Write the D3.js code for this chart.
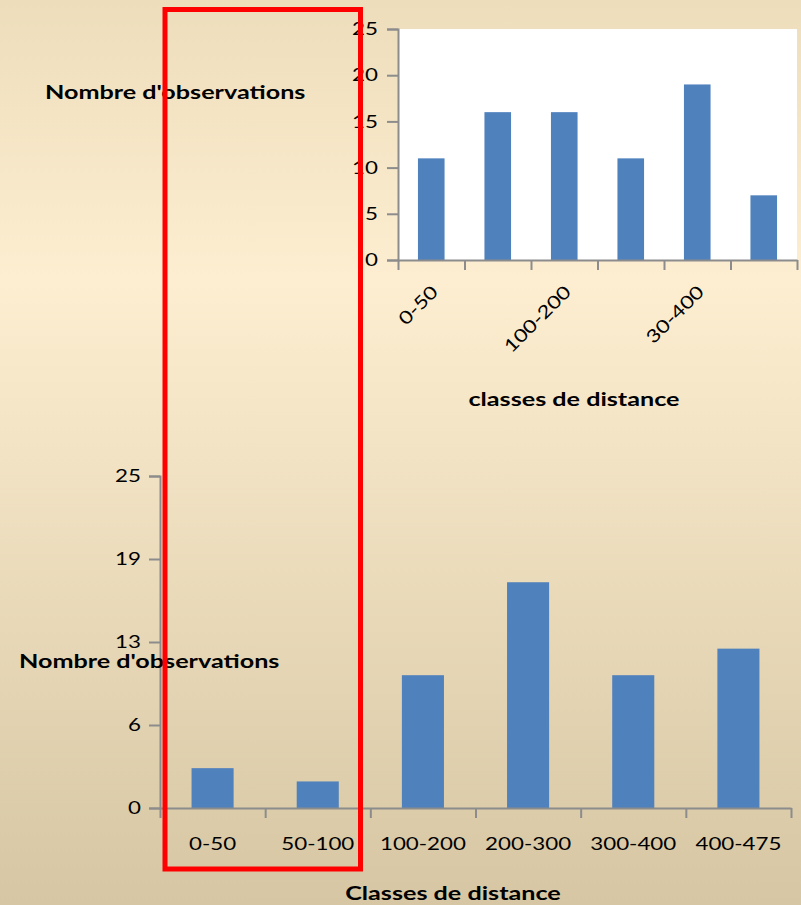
<!DOCTYPE html>
<html>
<head>
<meta charset="utf-8">
<script src="https://cdn.jsdelivr.net/npm/d3@7"></script>
<style>
  html, body { margin: 0; padding: 0; }
  body { width: 801px; height: 905px; overflow: hidden; }
  text { font-family: Lato, "Open Sans", sans-serif; fill: #000; }
</style>
</head>
<body>
<div id="chart"></div>
<script>
// top chart (the "30-400" label is as in the original)
var topCategories = ["0-50", "50-100", "100-200", "200-300", "30-400", "400-475"];
var topValues = [11, 16, 16, 11, 19, 7];
var topTicks = [0, 5, 10, 15, 20, 25];

// bottom chart
var botCategories = ["0-50", "50-100", "100-200", "200-300", "300-400", "400-475"];
var botValues = [3, 2, 10, 17, 10, 12];
var botTicks = [0, 6.25, 12.5, 18.75, 25];

var width = 801, height = 905;
var barColor = "#4F81BD", axisColor = "#8c8c8c";

var svg = d3.select("#chart").append("svg").attr("width", width).attr("height", height);

// background gradient
var grad = svg.append("defs").append("linearGradient")
    .attr("id", "bg").attr("x1", 0).attr("y1", 0).attr("x2", 0).attr("y2", 1);
grad.append("stop").attr("offset", "0").attr("stop-color", "#EDDDBB");
grad.append("stop").attr("offset", "0.31").attr("stop-color", "#FDEED1");
grad.append("stop").attr("offset", "1").attr("stop-color", "#D6C6A3");
svg.append("rect").attr("width", width).attr("height", height).attr("fill", "url(#bg)");

// the original text is wide (stretched), widen glyphs to match
function widen(sel, k) {
	sel.each(function() {
		var t = d3.select(this);
		if (!t.text()) return;
		var w = this.getComputedTextLength();
		t.attr("textLength", w * k).attr("lengthAdjust", "spacingAndGlyphs");
	});
}

function drawChart(opts) {
	var g = svg.append("g");
	var x = d3.scaleBand().domain(opts.categories)
		.range([opts.left, opts.right])
		.paddingInner(0.6).paddingOuter(0.3);
	var xb = d3.scaleLinear().domain([0, opts.categories.length]).range([opts.left, opts.right]);
	var y = d3.scaleLinear().domain([0, 25]).range([opts.bottom, opts.top]);

	if (opts.plotFill) {
		g.append("rect")
			.attr("x", opts.left).attr("y", opts.top)
			.attr("width", opts.right - opts.left).attr("height", opts.bottom - opts.top)
			.attr("fill", opts.plotFill);
	}

	g.selectAll("rect.bar")
		.data(opts.values)
		.enter().append("rect")
			.attr("class", "bar")
			.attr("x", function(d, i) { return x(opts.categories[i]); })
			.attr("width", x.bandwidth())
			.attr("y", function(d) { return y(d); })
			.attr("height", function(d) { return opts.bottom - y(d); })
			.attr("fill", barColor);

	// y axis
	var yAxis = g.append("g")
		.attr("transform", "translate(" + opts.left + ",0)")
		.call(d3.axisLeft(y).tickValues(opts.ticks).tickSize(11).tickPadding(opts.yPad)
			.tickFormat(d3.format(".0f")));
	yAxis.selectAll("text").style("font-size", "18px");
	widen(yAxis.selectAll("text"), 1.24);

	// x axis: boundary ticks
	var xAxis = g.append("g")
		.attr("transform", "translate(0," + opts.bottom + ")")
		.call(d3.axisBottom(xb).tickValues(d3.range(opts.categories.length + 1))
			.tickSize(10).tickSizeOuter(0).tickFormat(""));

	[yAxis, xAxis].forEach(function(a) {
		a.select(".domain").attr("stroke", axisColor).attr("stroke-width", 2);
		a.selectAll(".tick line").attr("stroke", axisColor).attr("stroke-width", 2);
	});

	// x labels
	var lab = g.append("g")
		.attr("transform", "translate(0," + opts.bottom + ")")
		.call(d3.axisBottom(x).tickSize(0).tickPadding(0)
			.tickFormat(function(d, i) { return (i % opts.labelEvery === 0) ? d : ""; }));
	lab.select(".domain").remove();
	lab.selectAll("text").style("font-size", "18px");
	if (opts.rotate) {
		lab.selectAll("text")
			.attr("text-anchor", "end")
			.attr("y", 0).attr("dy", 0)
			.attr("transform", "translate(8,33) rotate(-45)");
	} else {
		lab.selectAll("text").attr("y", 36).attr("dy", "0.32em");
	}
	widen(lab.selectAll("text"), 1.24);

	var xt = svg.append("text")
		.attr("x", opts.xTitle[1]).attr("y", opts.xTitle[2])
		.attr("text-anchor", "middle")
		.style("font-size", "19.5px").style("font-weight", "bold")
		.text(opts.xTitle[0]);
	var yt = svg.append("text")
		.attr("x", opts.yTitle[1]).attr("y", opts.yTitle[2])
		.style("font-size", "19.5px").style("font-weight", "bold")
		.text(opts.yTitle[0]);
	widen(xt, 1.29);
	widen(yt, 1.29);
}

drawChart({
	categories: topCategories, values: topValues, ticks: topTicks,
	left: 398, right: 797, top: 29, bottom: 260, yPad: 9,
	plotFill: "#ffffff", rotate: true, labelEvery: 2,
	xTitle: ["classes de distance", 574, 406],
	yTitle: ["Nombre d'observations", 45, 99]
});

drawChart({
	categories: botCategories, values: botValues, ticks: botTicks,
	left: 160, right: 791, top: 476, bottom: 808, yPad: 8,
	plotFill: null, rotate: false, labelEvery: 1,
	xTitle: ["Classes de distance", 453, 900],
	yTitle: ["Nombre d'observations", 19, 668]
});

// red highlight box around the first two classes
svg.append("rect")
	.attr("x", 165).attr("y", 9.5)
	.attr("width", 195.5).attr("height", 859.5)
	.attr("fill", "none")
	.attr("stroke", "#ff0000")
	.attr("stroke-width", 5);
</script>
</body>
</html>
